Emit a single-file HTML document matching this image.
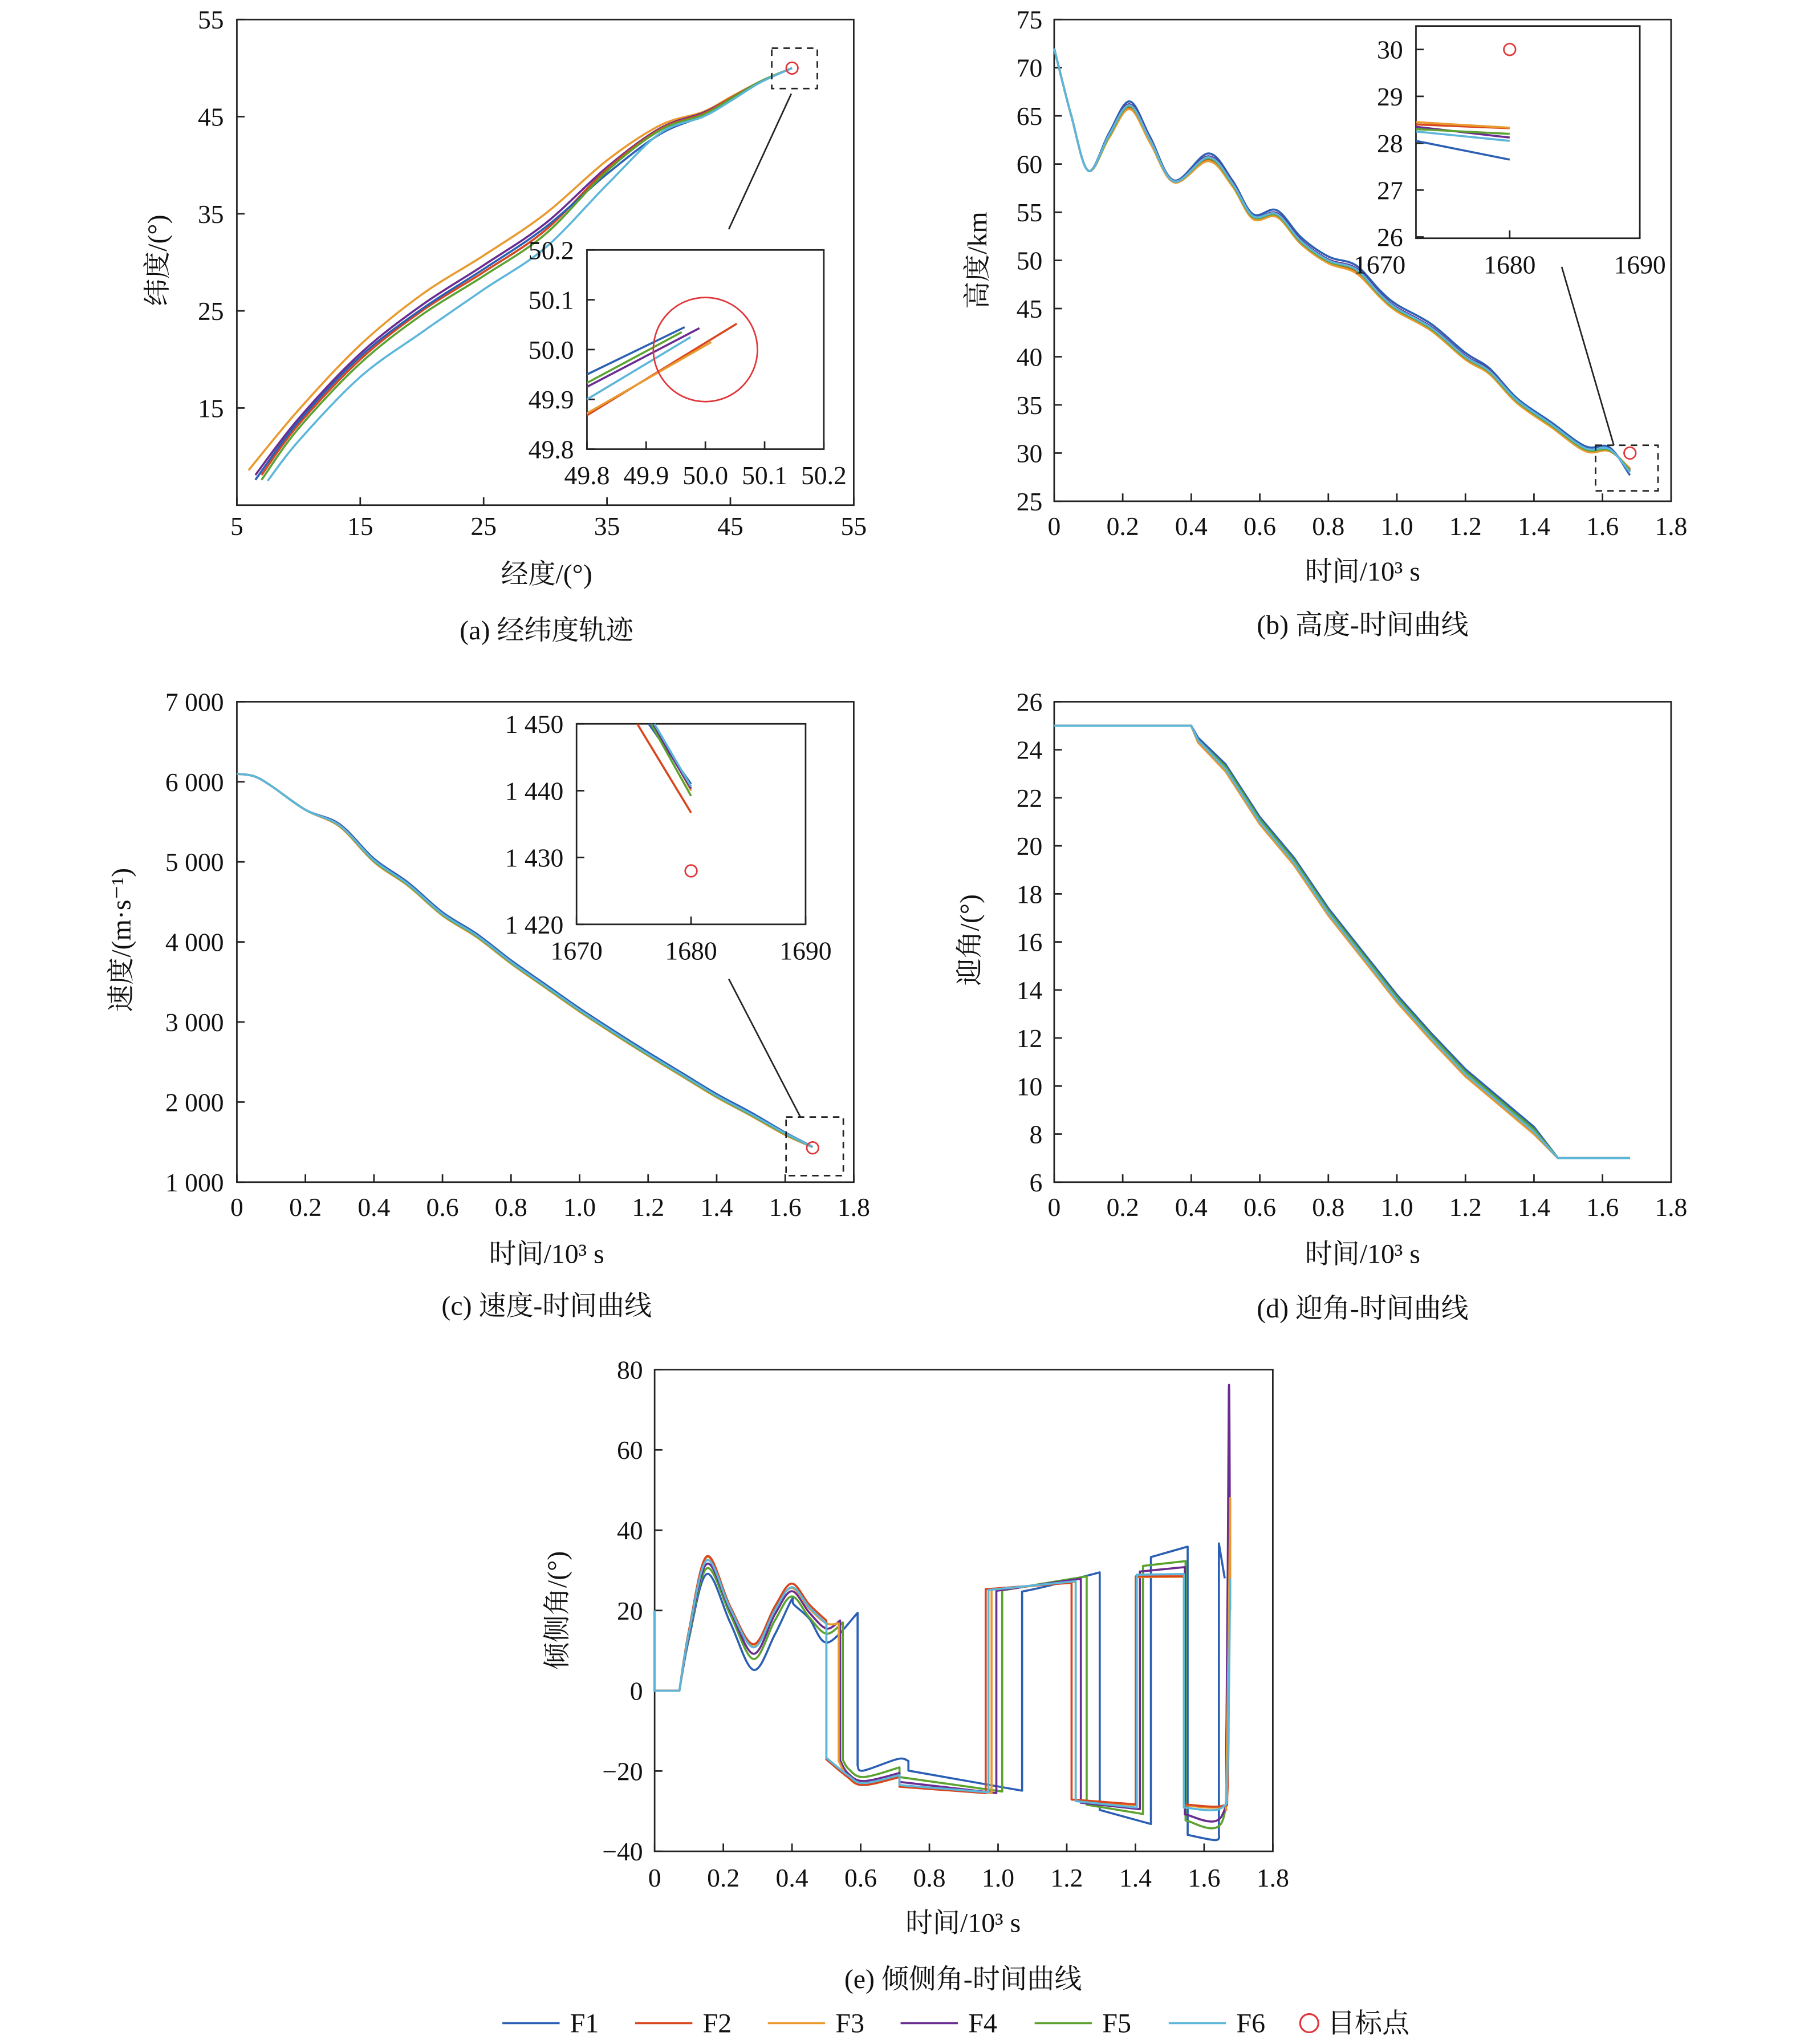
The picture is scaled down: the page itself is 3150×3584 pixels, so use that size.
<!DOCTYPE html>
<html><head><meta charset="utf-8">
<style>
html,body{margin:0;padding:0;background:#fff;}
svg{display:block;}
text{font-family:"Liberation Serif","Noto Serif CJK SC",serif;fill:#111;}
</style></head>
<body>
<svg id="fig" xmlns="http://www.w3.org/2000/svg" width="3150" height="3584" viewBox="0 0 1380 1570" preserveAspectRatio="none">
</svg>
<script>
// ===== series meta =====
const seriesNames = ["F1","F2","F3","F4","F5","F6"];
const seriesColors = ["#2b5fb4","#d8461e","#e99a2e","#6a2c91","#5ba22f","#5cb6da"];

// ===== panel (a): lon / lat =====
const aLon = [
 [6.5,10,15,20,25,30,35,39.3,42.8,45,47.4,50],
 [7.0,10,15,20,25,30,35,39.3,42.8,45,47.4,50],
 [5.95,10,15,20,25,30,35,39.3,42.8,45,47.4,50],
 [6.5,10,15,20,25,30,35,39.3,42.8,45,47.4,50],
 [7.0,10,15,20,25,30,35,39.3,42.8,45,47.4,50],
 [7.5,10,15,20,25,30,35,39.3,42.8,45,47.4,50]
];
const aLat = [
 [7.6,13.6,20.3,25.2,29.3,33.6,39.1,43.2,45.1,46.8,48.6,50],
 [8.1,13.3,20.0,25.0,29.0,33.3,39.6,43.7,45.3,46.9,48.6,50],
 [8.6,14.8,21.5,26.7,30.7,35.0,40.5,44.1,45.5,47.0,48.6,50],
 [8.1,13.9,20.6,25.6,29.7,34.0,39.8,43.8,45.4,46.9,48.6,50],
 [7.6,12.9,19.6,24.6,28.6,32.9,39.4,43.6,45.2,46.8,48.6,50],
 [7.5,11.6,18.2,22.8,27.2,31.5,38.0,43.3,45.0,46.6,48.5,50]
];
const aInsetX0 = [49.8,49.8,49.8,49.8,49.8,49.8];
const aInsetY0 = [49.95,49.868,49.872,49.925,49.933,49.9];
const aInsetX1 = [49.965,50.053,50.01,49.99,49.96,49.975];
const aInsetY1 = [50.045,50.052,50.015,50.043,50.035,50.025];
const aXTicks = [5,15,25,35,45,55];
const aYTicks = [55,45,35,25,15];
const aInsetTicks = ["49.8","49.9","50.0","50.1","50.2"];
const aTarget = [50.0,50.0];

// ===== panel (b): altitude =====
const bTime = [0,0.05,0.1,0.16,0.22,0.28,0.35,0.45,0.52,0.58,0.65,0.72,0.8,0.88,0.95,1.0,1.1,1.2,1.27,1.35,1.45,1.55,1.62,1.68];
const bAlt = [
 [72,65,59.3,63.2,66.5,62.8,58.3,61.1,58.3,54.8,55.2,52.4,50.4,49.5,46.9,45.4,43.4,40.4,38.8,35.7,33.2,30.7,30.6,27.7],
 [72,65,59.3,62.8,65.8,62.3,58.1,60.4,57.8,54.4,54.6,51.8,49.8,48.8,46.3,44.8,42.8,39.8,38.3,35.3,32.8,30.3,30.3,28.3],
 [72,65,59.3,62.7,65.7,62.2,58.1,60.3,57.7,54.3,54.5,51.7,49.7,48.7,46.2,44.7,42.7,39.7,38.2,35.2,32.7,30.2,30.2,28.4],
 [72,65,59.3,63.0,66.2,62.6,58.2,60.8,58.1,54.6,54.9,52.1,50.1,49.2,46.6,45.1,43.1,40.1,38.6,35.5,33.0,30.5,30.4,28.1],
 [72,65,59.3,62.9,66.0,62.5,58.2,60.6,57.9,54.5,54.7,51.9,49.9,49.0,46.4,44.9,42.9,39.9,38.4,35.4,32.9,30.4,30.3,28.2],
 [72,65,59.3,63.0,66.1,62.5,58.2,60.7,58.0,54.6,54.8,52.0,50.0,49.1,46.5,45.0,43.0,40.0,38.5,35.5,33.0,30.5,30.4,28.0]
];
const bInsetStart = [28.05,28.4,28.45,28.35,28.3,28.25];
const bInsetEnd = [27.65,28.32,28.33,28.12,28.2,28.05];
const bXTicks = ["0","0.2","0.4","0.6","0.8","1.0","1.2","1.4","1.6","1.8"];
const bYTicks = [75,70,65,60,55,50,45,40,35,30,25];
const bInsetYTicks = [30,29,28,27,26];
const bInsetXTicks = [1670,1680,1690];
const bTarget = [1.68,30];

// ===== panel (c): speed =====
const cTime = [0,0.05,0.1,0.2,0.3,0.4,0.5,0.6,0.7,0.8,0.9,1.0,1.1,1.2,1.3,1.4,1.5,1.6,1.68];
const cSpeed = [
 [6100,6070,5950,5650,5470,5040,4740,4370,4100,3770,3470,3170,2890,2620,2360,2100,1870,1620,1441],
 [6100,6070,5950,5650,5440,5000,4700,4330,4060,3730,3430,3130,2850,2580,2320,2060,1830,1590,1437],
 [6100,6070,5950,5650,5440,5000,4700,4330,4060,3730,3430,3130,2850,2580,2320,2060,1830,1590,1440],
 [6100,6070,5950,5650,5460,5020,4720,4350,4080,3750,3450,3150,2870,2600,2340,2080,1850,1610,1440],
 [6100,6070,5950,5650,5450,5010,4710,4340,4070,3740,3440,3140,2860,2590,2330,2070,1840,1600,1439],
 [6100,6070,5950,5650,5455,5020,4720,4350,4080,3750,3450,3150,2870,2600,2340,2080,1850,1610,1440]
];
const cInsetT0 = [1676.3,1675.3,1676.8,1676.6,1676.5,1676.8];
const cInsetV1 = [1441,1436.7,1440,1440.3,1439.2,1440.6];
const cXTicks = ["0","0.2","0.4","0.6","0.8","1.0","1.2","1.4","1.6","1.8"];
const cYTicks = ["7 000","6 000","5 000","4 000","3 000","2 000","1 000"];
const cYVals = [7000,6000,5000,4000,3000,2000,1000];
const cInsetYTicks = ["1 450","1 440","1 430","1 420"];
const cInsetYVals = [1450,1440,1430,1420];
const cInsetXTicks = [1670,1680,1690];
const cTarget = [1.68,1428];

// ===== panel (d): angle of attack =====
const dTime = [0,0.4,0.42,0.5,0.6,0.7,0.8,0.9,1.0,1.1,1.2,1.3,1.4,1.47,1.68];
const dAoA = [
 [25,25,24.5,23.4,21.2,19.5,17.4,15.6,13.8,12.2,10.7,9.5,8.3,7,7],
 [25,25,24.3,23.1,20.9,19.2,17.1,15.3,13.5,11.9,10.4,9.2,8.0,7,7],
 [25,25,24.3,23.1,20.9,19.2,17.1,15.3,13.5,11.9,10.4,9.2,8.0,7,7],
 [25,25,24.4,23.2,21.0,19.3,17.2,15.4,13.6,12.0,10.5,9.3,8.1,7,7],
 [25,25,24.4,23.3,21.1,19.4,17.3,15.5,13.7,12.1,10.6,9.4,8.2,7,7],
 [25,25,24.4,23.2,21.0,19.3,17.2,15.4,13.6,12.0,10.5,9.3,8.1,7,7]
];
const dXTicks = ["0","0.2","0.4","0.6","0.8","1.0","1.2","1.4","1.6","1.8"];
const dYTicks = [26,24,22,20,18,16,14,12,10,8,6];

// ===== panel (e): bank angle =====
const eT = [
 [0,0,0.072,0.072,0.1,0.152,0.22,0.288,0.35,0.399,0.405,0.45,0.503,0.591,0.591,0.608,0.708,0.739,0.739,1.07,1.07,1.145,1.296,1.296,1.445,1.445,1.552,1.552,1.634,1.643,1.643,1.66],
 [0,0,0.072,0.072,0.1,0.152,0.22,0.288,0.35,0.399,0.45,0.5,0.5,0.562,0.608,0.713,0.713,0.964,0.964,1.214,1.214,1.401,1.401,1.541,1.541,1.652,1.668,1.672],
 [0,0,0.072,0.072,0.1,0.152,0.22,0.288,0.35,0.399,0.45,0.5,0.536,0.536,0.562,0.608,0.713,0.713,0.981,0.981,1.226,1.226,1.401,1.401,1.541,1.541,1.652,1.665,1.676,1.676],
 [0,0,0.072,0.072,0.1,0.152,0.22,0.288,0.35,0.399,0.45,0.5,0.54,0.54,0.562,0.608,0.713,0.713,0.995,0.995,1.241,1.241,1.413,1.413,1.544,1.544,1.652,1.665,1.672,1.675],
 [0,0,0.072,0.072,0.1,0.152,0.22,0.288,0.35,0.399,0.45,0.5,0.548,0.548,0.565,0.608,0.713,0.713,1.012,1.012,1.258,1.258,1.422,1.422,1.546,1.546,1.652,1.665,1.672,1.676],
 [0,0,0.072,0.072,0.1,0.152,0.22,0.288,0.35,0.399,0.45,0.5,0.5,0.562,0.608,0.713,0.713,0.972,0.972,1.226,1.226,1.404,1.404,1.541,1.541,1.652,1.668,1.676]
];
const eV = [
 [20,0,0,0,13,29.1,17,5.2,14,22.7,21.5,18,12,19.4,-18.7,-19.9,-17,-17.5,-19.9,-24.9,24.7,26.1,29.5,-29.7,-33.2,33.3,35.9,-35.9,-37.2,-35.5,36.7,28],
 [20,0,0,0,15,33.5,21,11.6,21,26.7,21.5,17.5,-17.1,-21.5,-23.5,-21.5,-23.9,-25.5,25.3,26.9,-27.1,-28.3,28.5,28.5,-28.3,-28.7,-25,1],
 [20,0,0,0,15,33.3,21,11,20.5,25.6,20.5,16.8,16.8,-17.5,-21.5,-23.5,-21.5,-23.9,-25.5,25.2,27.1,-27.3,-28.5,28.3,28.4,-28.5,-28.7,-22,48,20],
 [20,0,0,0,14,31.6,20,9.2,19,24.8,19.5,15.5,17.5,-17.3,-20.5,-22.5,-20.5,-22.7,-25.5,24.9,27.9,-27.9,-29.5,29.7,30.8,-30.8,-31.1,-10,75,40],
 [20,0,0,0,13.5,30.5,19,7.9,17.5,23.5,18.3,14.2,17,-17.2,-19.5,-21.5,-19.1,-21.5,-25.1,25,28.5,-28.4,-30.7,31.1,32.3,-32.3,-32.7,-10,40,30],
 [20,0,0,0,14.5,32.5,20.5,10.8,20,25.8,20.8,16.7,-16.7,-21,-23,-21,-23.5,-25.3,25.1,27.3,-27.5,-29.1,28.9,29.1,-29.1,-29.1,-20,28]
];
const eXTicks = ["0","0.2","0.4","0.6","0.8","1.0","1.2","1.4","1.6","1.8"];
const eYTicks = [80,60,40,20,0,-20,-40];
</script>
<script>
const NS = "http://www.w3.org/2000/svg";
const svg = document.getElementById("fig");
function mk(tag, attrs, parent, txt){
  const e = document.createElementNS(NS, tag);
  for (const k in attrs) e.setAttribute(k, attrs[k]);
  if (txt !== undefined) e.textContent = txt;
  (parent || svg).appendChild(e);
  return e;
}
function lin(d0,d1,r0,r1){ return v => r0 + (v-d0)/(d1-d0)*(r1-r0); }
function grp(name){
  const g = mk("g", {});
  
  
  return g;
}
function frame(g, x0,y0,x1,y1, name){
  const r = mk("rect",{x:x0,y:y0,width:x1-x0,height:y1-y0,fill:"none",stroke:"#222","stroke-width":1.2},g);
  
  
}
function tick(g,x0,y0,x1,y1){
  const l = mk("line",{x1:x0,y1:y0,x2:x1,y2:y1,stroke:"#222","stroke-width":1.2},g);
  
  
}
function label(g, x,y,s,anchor,size,name,rot){
  const t = mk("text",{x:x,y:y,"text-anchor":anchor||"middle","font-size":size||20},g,s);
  if (rot) t.setAttribute("transform","rotate(-90 "+x+" "+y+")");
  
  
  return t;
}
function smoothD(pts, cmd){
  let d = cmd+pts[0][0].toFixed(2)+","+pts[0][1].toFixed(2);
  for (let i=0;i<pts.length-1;i++){
    const p0 = pts[i-1]||pts[i], p1=pts[i], p2=pts[i+1], p3=pts[i+2]||pts[i+1];
    const c1x=p1[0]+(p2[0]-p0[0])/6, c1y=p1[1]+(p2[1]-p0[1])/6;
    const c2x=p2[0]-(p3[0]-p1[0])/6, c2y=p2[1]-(p3[1]-p1[1])/6;
    d += "C"+c1x.toFixed(2)+","+c1y.toFixed(2)+" "+c2x.toFixed(2)+","+c2y.toFixed(2)+" "+p2[0].toFixed(2)+","+p2[1].toFixed(2);
  }
  return d;
}
// mode: "line" polyline, "smooth" spline, "jump" spline split at equal-x jumps (straight vertical jumps)
function line(g, xs, ys, sx, sy, color, name, mode, w){
  let d = "";
  if (mode === "smooth" || mode === "jump"){
    let seg = [];
    const segs = [];
    for (let i=0;i<xs.length;i++){
      if (mode==="jump" && i>0 && xs[i]===xs[i-1]){ segs.push(seg); seg=[]; }
      seg.push([sx(xs[i]), sy(ys[i])]);
    }
    segs.push(seg);
    segs.forEach((s,k)=>{ d += smoothD(s, k===0?"M":"L"); });
  } else {
    for (let i=0;i<xs.length;i++) d += (i?"L":"M") + sx(xs[i]).toFixed(2) + "," + sy(ys[i]).toFixed(2);
  }
  const p = mk("path",{d:d,fill:"none",stroke:color,"stroke-width":w||1.6,"stroke-linejoin":"round"},g);
  
  
}
function target(g,x,y,name){
  const c = mk("circle",{cx:x,cy:y,r:4.5,fill:"none",stroke:"#e0363a","stroke-width":1.2},g);
  
  
}
function dashed(g,x0,y0,x1,y1,name){
  const r = mk("rect",{x:x0,y:y0,width:x1-x0,height:y1-y0,fill:"none",stroke:"#222","stroke-width":1.2,"stroke-dasharray":"5,4"},g);
  
  
}
function leader(g,x0,y0,x1,y1,name){
  const l = mk("line",{x1:x0,y1:y0,x2:x1,y2:y1,stroke:"#222","stroke-width":1.2},g);
  
  
}
const TL = 6;

// ---------- panel a ----------
(function(){
  const g = grp("panel-a-lonlat");
  const sx = lin(5,55,182,656), sy = lin(5,55,388,15);
  frame(g,182,15,656,388,"plot-area-a");
  aXTicks.forEach(v=>{ label(g,sx(v),411,String(v),"middle",20,"x-tick-a"); tick(g,sx(v),388,sx(v),388-TL); });
  aYTicks.forEach(v=>{ label(g,172,sy(v)+7,String(v),"end",20,"y-tick-a"); tick(g,182,sy(v),182+TL,sy(v)); });
  const order=[2,3,1,0,4,5];
  order.forEach(i=>line(g,aLon[i],aLat[i],sx,sy,seriesColors[i],"trajectory-"+seriesNames[i].toLowerCase(),"smooth"));
  target(g,sx(aTarget[0]),sy(aTarget[1]),"target-point-a");
  dashed(g,593,37,628,68,"zoom-box-a");
  leader(g,608,72,560,176,"zoom-leader-a");
  // inset
  const ix = lin(49.8,50.2,451,633), iy = lin(49.8,50.2,345,192);
  mk("rect",{x:451,y:192,width:182,height:153,fill:"#fff"},g);
  frame(g,451,192,633,345,"inset-a");
  aInsetTicks.forEach((s,k)=>{ const v=49.8+0.1*k;
    label(g,ix(v),372,s,"middle",20,"inset-x-tick-a"); label(g,441,iy(v)+7,s,"end",20,"inset-y-tick-a");
    tick(g,ix(v),345,ix(v),345-TL); tick(g,451,iy(v),451+TL,iy(v)); });
  const order2=[1,2,0,4,3,5];
  order2.forEach(i=>line(g,[aInsetX0[i],aInsetX1[i]],[aInsetY0[i],aInsetY1[i]],ix,iy,seriesColors[i],"inset-trajectory-"+seriesNames[i].toLowerCase()));
  const c = mk("circle",{cx:ix(aTarget[0]),cy:iy(aTarget[1]),r:40,fill:"none",stroke:"#e0363a","stroke-width":1.2},g);
  
  
  label(g,420,448,"经度/(°)","middle",21,"x-axis-title-a");
  label(g,128,200,"纬度/(°)","middle",21,"y-axis-title-a",true);
  label(g,420,491,"(a) 经纬度轨迹","middle",21,"caption-a");
})();

// ---------- panel b ----------
(function(){
  const g = grp("panel-b-altitude");
  const sx = lin(0,1.8,810,1284), sy = lin(25,75,385,15);
  frame(g,810,15,1284,385,"plot-area-b");
  bXTicks.forEach((s,k)=>{ label(g,sx(0.2*k),411,s,"middle",20,"x-tick-b"); tick(g,sx(0.2*k),385,sx(0.2*k),385-TL); });
  bYTicks.forEach(v=>{ label(g,801,sy(v)+7,String(v),"end",20,"y-tick-b"); tick(g,810,sy(v),810+TL,sy(v)); });
  for (let i=0;i<6;i++) line(g,bTime,bAlt[i],sx,sy,seriesColors[i],"altitude-"+seriesNames[i].toLowerCase(),"smooth");
  target(g,sx(bTarget[0]),sy(bTarget[1]),"target-point-b");
  dashed(g,1226,342,1274,377,"zoom-box-b");
  leader(g,1200,205,1240,342,"zoom-leader-b");
  const ix = lin(1670,1690,1060,1260), iy = lin(26,30,182,38);
  mk("rect",{x:1088,y:20,width:172,height:163,fill:"#fff"},g);
  frame(g,1088,20,1260,183,"inset-b");
  bInsetXTicks.forEach(v=>{ label(g,ix(v),210,String(v),"middle",20,"inset-x-tick-b"); if (ix(v)>1088) tick(g,ix(v),183,ix(v),183-TL); });
  bInsetYTicks.forEach(v=>{ label(g,1078,iy(v)+7,String(v),"end",20,"inset-y-tick-b"); tick(g,1088,iy(v),1088+TL,iy(v)); });
  for (let i=0;i<6;i++) line(g,[1672.8,1680],[bInsetStart[i],bInsetEnd[i]],ix,iy,seriesColors[i],"inset-altitude-"+seriesNames[i].toLowerCase());
  target(g,ix(1680),iy(30),"inset-target-b");
  label(g,1047,446,"时间/10³ s","middle",21,"x-axis-title-b");
  label(g,758,200,"高度/km","middle",21,"y-axis-title-b",true);
  label(g,1047,487,"(b) 高度-时间曲线","middle",21,"caption-b");
})();

// ---------- panel c ----------
(function(){
  const g = grp("panel-c-speed");
  const sx = lin(0,1.8,182,656), sy = lin(1000,7000,908,539);
  frame(g,182,539,656,908,"plot-area-c");
  cXTicks.forEach((s,k)=>{ label(g,sx(0.2*k),934,s,"middle",20,"x-tick-c"); tick(g,sx(0.2*k),908,sx(0.2*k),908-TL); });
  cYTicks.forEach((s,k)=>{ label(g,172,sy(cYVals[k])+7,s,"end",20,"y-tick-c"); tick(g,182,sy(cYVals[k]),182+TL,sy(cYVals[k])); });
  for (let i=0;i<6;i++) line(g,cTime,cSpeed[i],sx,sy,seriesColors[i],"speed-"+seriesNames[i].toLowerCase(),"smooth");
  target(g,sx(cTarget[0]),sy(cTarget[1]),"target-point-c");
  dashed(g,604,858,648,903,"zoom-box-c");
  leader(g,560,752,615,858,"zoom-leader-c");
  const ix = lin(1670,1690,443,619), iy = lin(1420,1450,710,556);
  mk("rect",{x:443,y:556,width:176,height:154,fill:"#fff"},g);
  frame(g,443,556,619,710,"inset-c");
  cInsetXTicks.forEach(v=>{ label(g,ix(v),737,String(v),"middle",20,"inset-x-tick-c"); tick(g,ix(v),710,ix(v),710-TL); });
  cInsetYTicks.forEach((s,k)=>{ label(g,433,iy(cInsetYVals[k])+7,s,"end",20,"inset-y-tick-c"); tick(g,443,iy(cInsetYVals[k]),443+TL,iy(cInsetYVals[k])); });
  for (let i=0;i<6;i++) line(g,[cInsetT0[i],1680],[1450,cInsetV1[i]],ix,iy,seriesColors[i],"inset-speed-"+seriesNames[i].toLowerCase());
  target(g,ix(1680),iy(cTarget[1]),"inset-target-c");
  label(g,420,970,"时间/10³ s","middle",21,"x-axis-title-c");
  label(g,100,722,"速度/(m·s⁻¹)","middle",21,"y-axis-title-c",true);
  label(g,420,1010,"(c) 速度-时间曲线","middle",21,"caption-c");
})();

// ---------- panel d ----------
(function(){
  const g = grp("panel-d-aoa");
  const sx = lin(0,1.8,810,1284), sy = lin(6,26,908,539);
  frame(g,810,539,1284,908,"plot-area-d");
  dXTicks.forEach((s,k)=>{ label(g,sx(0.2*k),934,s,"middle",20,"x-tick-d"); tick(g,sx(0.2*k),908,sx(0.2*k),908-TL); });
  dYTicks.forEach(v=>{ label(g,801,sy(v)+7,String(v),"end",20,"y-tick-d"); tick(g,810,sy(v),810+TL,sy(v)); });
  for (let i=0;i<6;i++) line(g,dTime,dAoA[i],sx,sy,seriesColors[i],"aoa-"+seriesNames[i].toLowerCase());
  label(g,1047,970,"时间/10³ s","middle",21,"x-axis-title-d");
  label(g,752,722,"迎角/(°)","middle",21,"y-axis-title-d",true);
  label(g,1047,1012,"(d) 迎角-时间曲线","middle",21,"caption-d");
})();

// ---------- panel e ----------
(function(){
  const g = grp("panel-e-bank");
  const sx = lin(0,1.8,503,978), sy = lin(-40,80,1422,1052);
  frame(g,503,1052,978,1422,"plot-area-e");
  eXTicks.forEach((s,k)=>{ label(g,sx(0.2*k),1449,s,"middle",20,"x-tick-e"); tick(g,sx(0.2*k),1422,sx(0.2*k),1422-TL); });
  eYTicks.forEach(v=>{ label(g,494,sy(v)+7,v<0?"−"+Math.abs(v):String(v),"end",20,"y-tick-e"); tick(g,503,sy(v),503+TL,sy(v)); });
  const order=[0,4,3,2,1,5];
  order.forEach(i=>line(g,eT[i],eV[i],sx,sy,seriesColors[i],"bank-"+seriesNames[i].toLowerCase(),"jump"));
  label(g,740,1484,"时间/10³ s","middle",21,"x-axis-title-e");
  label(g,435,1237,"倾侧角/(°)","middle",21,"y-axis-title-e",true);
  label(g,740,1527,"(e) 倾侧角-时间曲线","middle",21,"caption-e");
})();

// ---------- legend ----------
(function(){
  const g = grp("legend");
  const xs = [386,488,590,692,795,898];
  for (let i=0;i<6;i++){
    const l = mk("line",{x1:xs[i],y1:1554,x2:xs[i]+44,y2:1554,stroke:seriesColors[i],"stroke-width":1.6},g);
    
    
    label(g,xs[i]+52,1561,seriesNames[i],"start",21,"legend-label-"+seriesNames[i].toLowerCase());
  }
  const c = mk("circle",{cx:1006,cy:1554,r:7,fill:"none",stroke:"#e0363a","stroke-width":1.4},g);
  
  
  label(g,1020,1561,"目标点","start",21,"legend-label-target");
})();
</script>
</body></html>
